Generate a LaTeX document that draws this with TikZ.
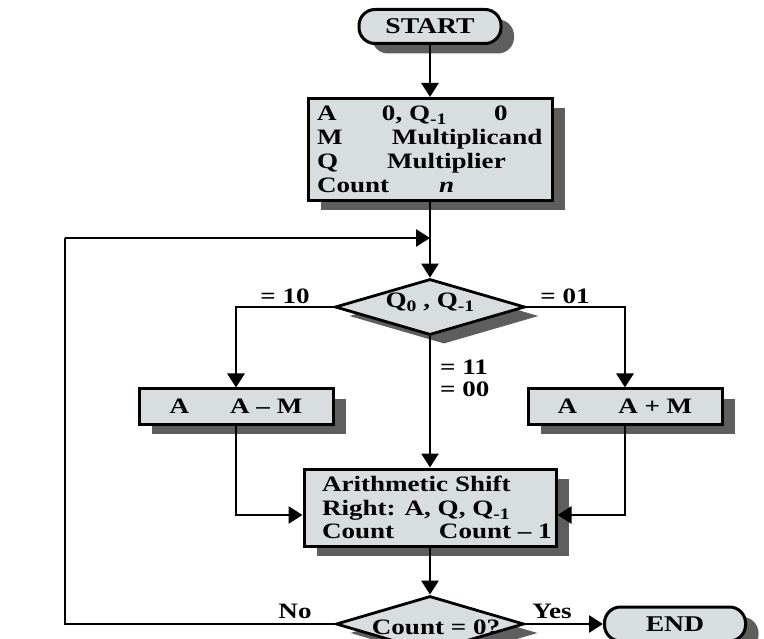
\documentclass[tikz,border=0pt]{standalone}
\usepackage{fontspec}
\setmainfont[FakeStretch=1.23]{Liberation Serif}
\usetikzlibrary{shapes.geometric,shadows,arrows.meta,calc}
\definecolor{boxfill}{HTML}{D8DDDF}
\definecolor{shadegray}{HTML}{5E5E5E}
% register index set low and fairly large, without touching line spacing
\newcommand{\regidx}[1]{\smash{\raisebox{-4pt}{\fontsize{16}{16}\selectfont #1}}}
\begin{document}
\begin{tikzpicture}[x=1pt,y=-1pt,
  font=\fontsize{22}{24}\selectfont\bfseries,
  shade/.style={drop shadow={shadow xshift=13pt,shadow yshift=-10pt,fill=shadegray,opacity=1}},
  box/.style={draw,line width=3pt,fill=boxfill,shade,inner sep=0pt},
  term/.style={box,rounded corners=16pt},
  decision/.style={diamond,draw,line width=2.8pt,fill=boxfill,inner sep=0pt,
    drop shadow={shadow xshift=14pt,shadow yshift=-9pt,fill=shadegray,opacity=1}},
  txt/.style={inner sep=0pt},
  link/.style={line width=2.8pt},
  flow/.style={link,-{Triangle[length=14pt,width=17pt]}}]
\useasboundingbox (0,0) rectangle (764,639);

% terminals
\node[term,minimum width=142pt,minimum height=34pt] (start) at (430,26.5) {};
\node[txt,font=\fontsize{22.5}{24}\selectfont\bfseries] (starttxt) at (430,26) {START};
\node[term,minimum width=141pt,minimum height=34pt] (end) at (675,624) {};
\node[txt,font=\fontsize{22.5}{24}\selectfont\bfseries] (endtxt) at (675,624) {END};

% initialisation
\node[box,minimum width=244pt,minimum height=102pt,align=left] (init) at (430,149.5)
  {\makebox[226pt][l]{\rlap{A}\hspace*{65pt}\rlap{0, Q\regidx{-1}}\hspace*{112pt}0}\\
   \makebox[226pt][l]{\rlap{M}\hspace*{75pt}Multiplicand}\\
   \makebox[226pt][l]{\rlap{Q}\hspace*{70pt}Multiplier}\\
   \makebox[226pt][l]{\rlap{Count}\hspace*{122pt}\textit{n}}};

% first decision
\coordinate (join) at (430,238);
\coordinate (corner) at (65,238);
\node[decision,minimum width=190pt,minimum height=56pt] (d1) at (430,307) {};
\node[txt] (d1txt) at (430,302) {Q\regidx{0} , Q\regidx{-1}};

% add / subtract
\node[box,minimum width=194pt,minimum height=35pt] (sub) at (236,406.5)
  {A\hspace*{41pt}A – M};
\node[box,minimum width=194pt,minimum height=35pt] (add) at (625,406.5)
  {A\hspace*{41pt}A + M};

% shift
\node[box,minimum width=252pt,minimum height=77pt,align=left] (arith) at (430,507.5)
  {\makebox[216pt][l]{Arithmetic Shift}\\[-0.5pt]
   \makebox[216pt][l]{Right: A, Q, Q\regidx{-1}}\\[-0.5pt]
   \makebox[216pt][l]{\rlap{Count}\hspace*{117pt}Count – 1}};

% second decision
\node[decision,minimum width=188pt,minimum height=56pt] (d2) at (430,624) {};
\node[txt] (d2txt) at (436,627) {Count = 0?};

% connectors
\draw[flow] (start) -- (init);
\draw[flow] (init) -- (d1);
\draw[flow] (d1.west) -| (sub.north);
\draw[flow] (d1.east) -| (add.north);
\draw[flow] (d1.south) -- (arith.north);
\draw[flow] (sub.south) |- ($(arith.west)+(0,7.5)$);
\draw[flow] (add.south) |- ($(arith.east)+(0,7.5)$);
\draw[flow] (arith) -- (d2);
\draw[flow] (d2.east) -- (end.west);
\draw[link] (d2.west) -| (corner);
\draw[flow] (corner) -- (join);

% branch labels
\node[txt] (l10) at (285,296) {= 10};
\node[txt] (l01) at (565,296) {= 01};
\node[txt,anchor=west,align=left,font=\fontsize{22}{22}\selectfont\bfseries]
  (l11) at (440,378) {= 11\\= 00};
\node[txt] (lno) at (295,611) {No};
\node[txt] (lyes) at (552,611) {Yes};
\end{tikzpicture}
\end{document}
